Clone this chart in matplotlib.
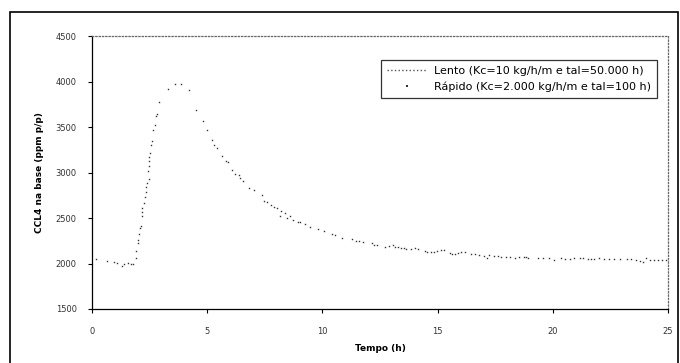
import matplotlib
matplotlib.use("Agg")
import matplotlib.pyplot as plt
from matplotlib.patches import Rectangle

# Rapido series
tempo_rapido = [0.17, 0.64, 0.97, 1.07, 1.29, 1.41, 1.58, 1.70, 1.80, 1.90, 1.92, 1.98, 2.00,
                2.03, 2.10, 2.12, 2.16, 2.17, 2.19, 2.24, 2.30, 2.33, 2.35, 2.37, 2.43, 2.46,
                2.47, 2.48, 2.49, 2.50, 2.54, 2.60, 2.64, 2.74, 2.77, 2.81, 2.91, 3.30, 3.60,
                3.86, 4.19, 4.52, 4.83, 4.97, 5.22, 5.30, 5.42, 5.65, 5.81, 5.91, 6.09, 6.20,
                6.38, 6.42, 6.54, 6.81, 7.03, 7.38, 7.48, 7.60, 7.77, 7.91, 8.03, 8.14, 8.20,
                8.37, 8.46, 8.58, 8.71, 8.93, 9.04, 9.26, 9.48, 9.83, 10.09, 10.43, 10.55,
                10.87, 11.27, 11.45, 11.59, 11.77, 12.17, 12.26, 12.35, 12.73, 12.90, 13.07,
                13.16, 13.30, 13.42, 13.53, 13.65, 13.86, 14.03, 14.14, 14.47, 14.55, 14.73,
                14.84, 14.96, 15.13, 15.27, 15.54, 15.62, 15.74, 15.88, 16.00, 16.21, 16.43,
                16.61, 16.81, 17.01, 17.13, 17.25, 17.45, 17.62, 17.77, 17.97, 18.14, 18.38,
                18.55, 18.73, 18.84, 18.93, 19.36, 19.59, 19.83, 20.06, 20.35, 20.52, 20.73,
                20.93, 21.16, 21.30, 21.51, 21.65, 21.80, 22.00, 22.23, 22.43, 22.67, 22.90,
                23.22, 23.39, 23.62, 23.77, 23.91, 24.06, 24.23, 24.40, 24.58, 24.75, 24.93]
ccl4_rapido = [2046, 2027, 2020, 2005, 1976, 1991, 2005, 1991, 1991, 2064, 2141, 2229, 2258,
               2328, 2387, 2415, 2525, 2563, 2613, 2668, 2734, 2786, 2841, 2888, 3020, 2925,
               3075, 3126, 3174, 3214, 3299, 3343, 3467, 3522, 3624, 3640, 3775, 3918, 3973,
               3973, 3903, 3690, 3566, 3467, 3354, 3299, 3269, 3185, 3130, 3115, 3031, 2984,
               2969, 2940, 2903, 2833, 2806, 2751, 2690, 2673, 2643, 2624, 2613, 2525, 2580,
               2555, 2503, 2525, 2481, 2456, 2456, 2434, 2398, 2379, 2357, 2324, 2310,
               2284, 2266, 2251, 2244, 2240, 2225, 2203, 2206, 2185, 2196, 2200,
               2185, 2181, 2174, 2167, 2163, 2163, 2167, 2159, 2137, 2123, 2126,
               2126, 2134, 2145, 2148, 2115, 2104, 2104, 2112, 2123, 2123, 2101,
               2101, 2097, 2086, 2057, 2093, 2082, 2079, 2071, 2071, 2071, 2060,
               2068, 2071, 2068, 2060, 2060, 2060, 2057, 2035, 2060, 2046, 2049,
               2060, 2064, 2060, 2053, 2046, 2049, 2060, 2049, 2049, 2046, 2046,
               2046, 2046, 2038, 2031, 2020, 2060, 2035, 2035, 2038, 2042, 2035]

# Lento series: not distinguishable in the scan
tempo_lento = []
ccl4_lento = []

label_lento = "Lento (Kc=10 kg/h/m e tal=50.000 h)"
label_rapido = "Rápido (Kc=2.000 kg/h/m e tal=100 h)"

x_ticks = [0, 5, 10, 15, 20, 25]
y_ticks = [1500, 2000, 2500, 3000, 3500, 4000, 4500]

fig = plt.figure(figsize=(6.8, 3.63), dpi=100)
fig.patches.append(Rectangle((10 / 680, -0.05), 668 / 680, 1.05 - 12 / 363,
                             transform=fig.transFigure, fill=False,
                             edgecolor="black", linewidth=1.2))
ax = fig.add_axes([92 / 680, 1 - 309 / 363, 576 / 680, 273 / 363])

ax.plot(tempo_lento, ccl4_lento, linestyle=":", color="#555555", linewidth=1,
        label=label_lento)
ax.plot(tempo_rapido, ccl4_rapido, linestyle="none", marker="s", markersize=1.0,
        markeredgewidth=0, color="#333333", label=label_rapido)

ax.set_xlim(0, 25)
ax.set_ylim(1500, 4500)
ax.set_xticks(x_ticks)
ax.set_yticks(y_ticks)
ax.tick_params(labelsize=6, length=3, width=0.8, color="black", pad=8,
               labelcolor="#333333")
ax.tick_params(axis="x", pad=10)

for s in ["top", "right"]:
    ax.spines[s].set_linestyle(":")
    ax.spines[s].set_color("#666666")
    ax.spines[s].set_linewidth(0.9)
for s in ["left", "bottom"]:
    ax.spines[s].set_linewidth(0.9)

ax.set_xlabel("Tempo (h)", fontsize=6.5, fontweight="bold", labelpad=6)
ax.set_ylabel("CCL4 na base (ppm p/p)", fontsize=6.5, fontweight="bold", labelpad=8)

leg = ax.legend(loc="upper right", bbox_to_anchor=(0.981, 0.912), borderaxespad=0,
                fontsize=8, frameon=True, fancybox=False, edgecolor="black",
                markerscale=1.5, handlelength=3.6, handletextpad=0.6,
                borderpad=0.55, labelspacing=0.45)
leg.get_frame().set_linewidth(0.9)

fig.savefig("out.png", dpi=100)
